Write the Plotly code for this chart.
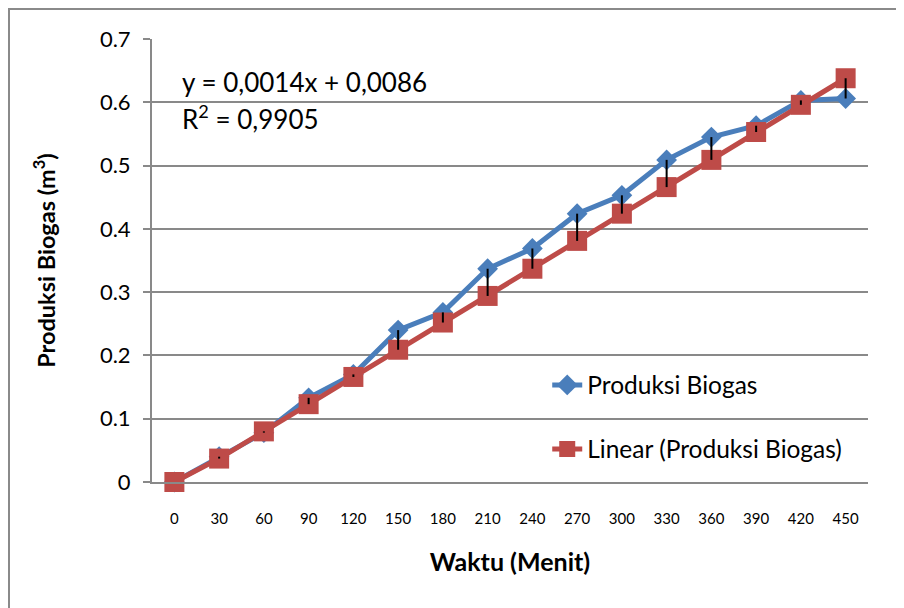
import plotly.graph_objects as go

# Data
waktu = ["0", "30", "60", "90", "120", "150", "180", "210", "240", "270",
         "300", "330", "360", "390", "420", "450"]
produksi = [0.0, 0.040, 0.078, 0.133, 0.170, 0.240, 0.268, 0.337, 0.369, 0.424,
            0.453, 0.509, 0.545, 0.563, 0.603, 0.606]
linear = [0.0, 0.037, 0.080, 0.123, 0.166, 0.209, 0.252, 0.294, 0.337, 0.381,
          0.424, 0.466, 0.509, 0.553, 0.596, 0.638]
y_ticks = [0, 0.1, 0.2, 0.3, 0.4, 0.5, 0.6, 0.7]
y_tick_text = ["0", "0.1", "0.2", "0.3", "0.4", "0.5", "0.6", "0.7"]

FONT = "Lato, 'Open Sans', sans-serif"
BLUE = "#4A7EBB"
RED = "#BE4B48"
GRID = "#898989"

W, H = 896, 600
L, T, PW, PH = 144, 31, 716, 443

fig = go.Figure()

fig.add_trace(go.Scatter(
    x=waktu, y=produksi, name="Produksi Biogas", mode="lines+markers",
    line=dict(color=BLUE, width=5),
    marker=dict(symbol="diamond", size=16, color=BLUE),
    legend="legend", cliponaxis=False,
))
fig.add_trace(go.Scatter(
    x=waktu, y=linear, name="Linear (Produksi Biogas)", mode="lines+markers",
    line=dict(color=RED, width=5),
    marker=dict(symbol="square", size=20, color=RED),
    legend="legend2", cliponaxis=False,
))

# high-low lines between the two series
hx, hy = [], []
for c, a, b in zip(waktu, produksi, linear):
    hx += [c, c, None]
    hy += [a, b, None]
fig.add_trace(go.Scatter(
    x=hx, y=hy, mode="lines", line=dict(color="black", width=2),
    showlegend=False, hoverinfo="skip", cliponaxis=False,
))

fig.update_layout(
    width=W, height=H,
    margin=dict(l=L, r=W - L - PW, t=T, b=H - T - PH),
    paper_bgcolor="white", plot_bgcolor="white",
    font=dict(family=FONT, color="black"),
    legend=dict(x=0.552, y=0.219, xanchor="left", yanchor="middle",
                bgcolor="rgba(0,0,0,0)", font=dict(size=24.5, family=FONT)),
    legend2=dict(x=0.552, y=0.0745, xanchor="left", yanchor="middle",
                 bgcolor="rgba(0,0,0,0)", font=dict(size=24.5, family=FONT)),
    xaxis=dict(
        type="category", showgrid=False, showline=True, linecolor=GRID, linewidth=2,
        ticks="", tickfont=dict(size=15, family=FONT), ticklabelstandoff=22,
        title=dict(text="<b>Waktu (Menit)</b>", font=dict(size=25, family=FONT), standoff=27),
        range=[-0.5, 15.5], zeroline=False,
    ),
    yaxis=dict(
        range=[0, 0.7], tickvals=y_ticks, ticktext=y_tick_text,
        showgrid=True, gridcolor=GRID, gridwidth=1.5,
        showline=True, linecolor=GRID, linewidth=2,
        ticks="outside", ticklen=7, tickcolor=GRID, tickwidth=1.5,
        tickfont=dict(size=22, family=FONT), ticklabelstandoff=8,
        title=dict(text="<b>Produksi Biogas (m<sup>3</sup>)</b>", font=dict(size=23.5, family=FONT), standoff=38),
        zeroline=False,
    ),
    annotations=[
        dict(text="y = 0,0014x + 0,0086", x=0.039, y=0.903, xref="paper", yref="paper",
             xanchor="left", yanchor="middle", showarrow=False, font=dict(size=26, family=FONT)),
        dict(text="R<sup>2</sup> = 0,9905", x=0.039, y=0.822, xref="paper", yref="paper",
             xanchor="left", yanchor="middle", showarrow=False, font=dict(size=26, family=FONT)),
    ],
    shapes=[
        dict(type="rect", xref="paper", yref="paper",
             x0=(1 - L) / PW, x1=(905 - L) / PW,
             y0=1 - (610 - T) / PH, y1=1 - (1 - T) / PH,
             line=dict(color="#8a8a8a", width=2), fillcolor="rgba(0,0,0,0)", layer="below"),
    ],
)

fig.write_html("out.html")
